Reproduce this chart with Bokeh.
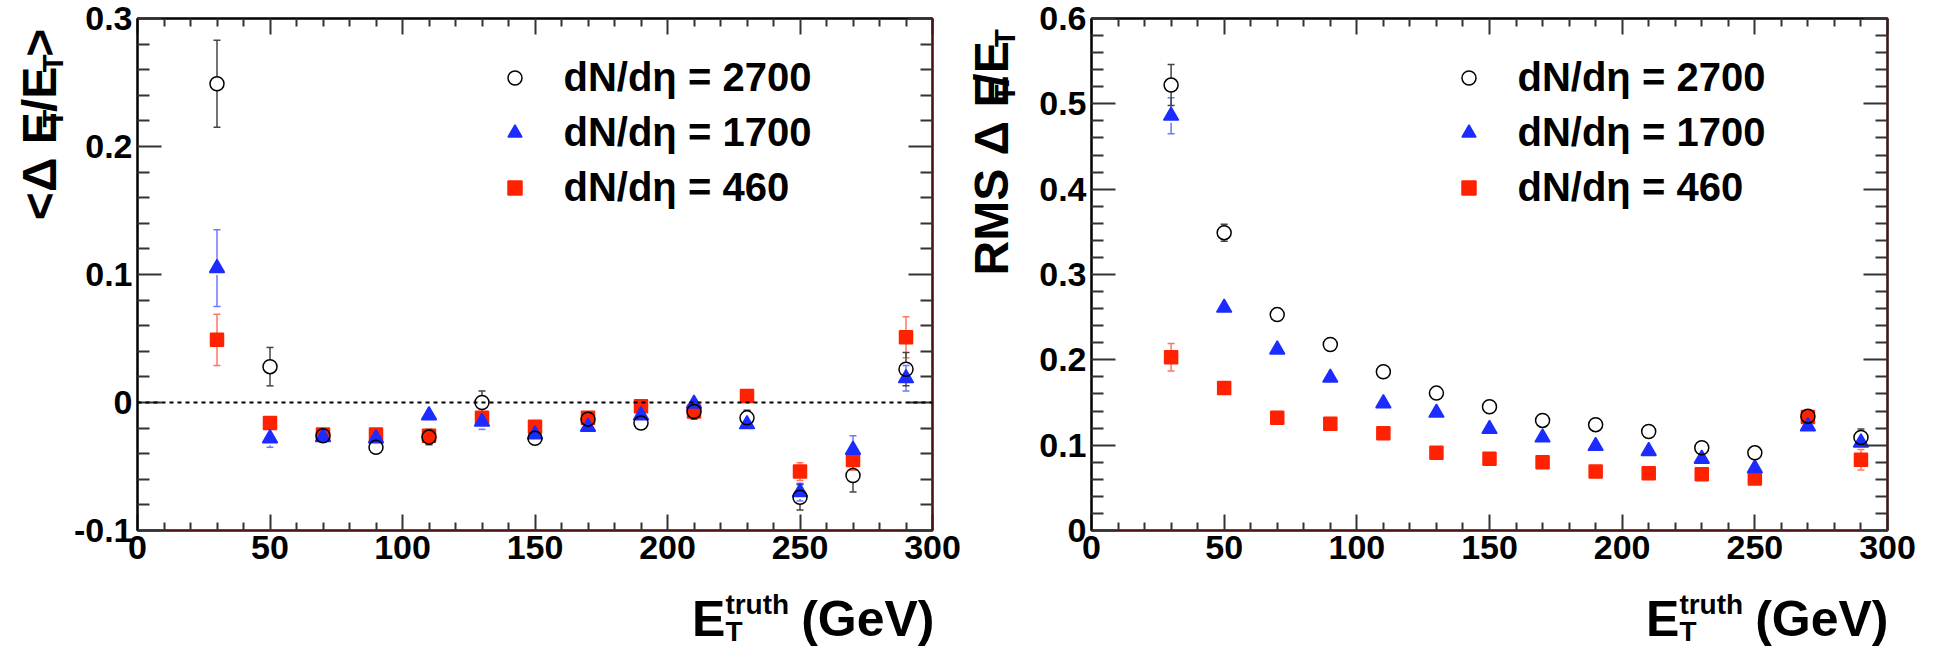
import math
from bokeh.plotting import figure
from bokeh.layouts import row, column
from bokeh.models import (ColumnDataSource, Whisker, TeeHead, Span, Legend, LegendItem,
                          LinearAxis, FixedTicker, Range1d, CustomJSTickFormatter)
from bokeh.core.properties import value
from bokeh.embed import file_html
from bokeh.resources import INLINE

# ---------------- data ----------------
et_truth = [30, 50, 70, 90, 110, 130, 150, 170, 190, 210, 230, 250, 270, 290]

series_labels = ["dN/d\u03b7 = 2700", "dN/d\u03b7 = 1700", "dN/d\u03b7 = 460"]

# left panel: <Delta E_T / E_T>
mean_2700 = [0.249, 0.028, -0.026, -0.035, -0.027, 0.000, -0.028, -0.013, -0.016, -0.007, -0.012, -0.074, -0.057, 0.026]
mean_1700 = [0.105, -0.028, -0.027, -0.028, -0.010, -0.015, -0.025, -0.019, -0.010, -0.001, -0.017, -0.070, -0.037, 0.019]
mean_460 = [0.049, -0.016, -0.025, -0.025, -0.026, -0.012, -0.019, -0.012, -0.003, -0.007, 0.005, -0.054, -0.045, 0.051]
mean_err_2700 = [0.034, 0.015, 0.005, 0.005, 0.006, 0.009, 0.005, 0.005, 0.005, 0.006, 0.006, 0.010, 0.013, 0.013]
mean_err_1700 = [0.030, 0.007, 0.004, 0.004, 0.004, 0.006, 0.004, 0.004, 0.004, 0.004, 0.005, 0.007, 0.011, 0.010]
mean_err_460 = [0.020, 0.005, 0.004, 0.004, 0.004, 0.005, 0.004, 0.004, 0.004, 0.004, 0.005, 0.007, 0.008, 0.016]

# right panel: RMS Delta E_T / E_T
rms_2700 = [0.522, 0.349, 0.253, 0.218, 0.186, 0.161, 0.145, 0.129, 0.124, 0.116, 0.097, 0.091, 0.134, 0.109]
rms_1700 = [0.486, 0.261, 0.212, 0.179, 0.149, 0.138, 0.119, 0.109, 0.099, 0.093, 0.084, 0.073, 0.122, 0.103]
rms_460 = [0.203, 0.167, 0.132, 0.125, 0.114, 0.091, 0.084, 0.080, 0.069, 0.067, 0.066, 0.061, 0.133, 0.083]
rms_err_2700 = [0.024, 0.010, 0.005, 0.005, 0.004, 0.004, 0.004, 0.004, 0.004, 0.004, 0.004, 0.004, 0.006, 0.010]
rms_err_1700 = [0.021, 0.006, 0.004, 0.003, 0.003, 0.003, 0.003, 0.003, 0.003, 0.003, 0.003, 0.003, 0.005, 0.007]
rms_err_460 = [0.016, 0.005, 0.003, 0.003, 0.003, 0.003, 0.003, 0.003, 0.003, 0.003, 0.003, 0.003, 0.005, 0.012]

x_ticks = [0, 50, 100, 150, 200, 250, 300]
mean_ticks = [-0.1, 0.0, 0.1, 0.2, 0.3]
rms_ticks = [0.0, 0.1, 0.2, 0.3, 0.4, 0.5, 0.6]

# ---------------- layout (page pixels; Bokeh's page has no body margin) ----------------
FONT = "Liberation Sans"
INK = "black"
FRAME_W = 796
FRAME_TOP, FRAME_BOTTOM = 18, 530
FRAME_H = FRAME_BOTTOM - FRAME_TOP
TOP_H = 584                  # panel row height
BOT_H = 648 - TOP_H          # x-title row height
YT1_W, P1_W, YT2_W, P2_W = 70, 892, 68, 905
P1_LEFT = YT1_W
YT2_LEFT = YT1_W + P1_W
P2_LEFT = YT2_LEFT + YT2_W
MID = 0.3465                 # em distance from baseline up to the text box middle

# Arial/Liberation Sans Bold advance widths (em)
MET = {"E": .667, "T": .611, "R": .722, "M": .833, "S": .667, " ": .278, "\u0394": .67,
       "<": .584, ">": .584, "/": .278, "(": .333, ")": .333, "G": .778, "e": .556,
       "V": .667, "t": .333, "r": .389, "u": .611, "h": .611}


def tw(s, size):
    return sum(MET.get(c, .6) for c in s) * size


def minor_list(ticks, n):
    out = []
    for a, b in zip(ticks[:-1], ticks[1:]):
        for i in range(1, n):
            out.append(round(a + (b - a) * i / n, 10))
    return out


def y_formatter():
    return CustomJSTickFormatter(code="""
        const v = Math.round(tick * 10) / 10;
        return Math.abs(v) < 1e-9 ? "0" : v.toFixed(1);
    """)


def make_panel(yticks, width, frame_left_page, fig_left_page):
    b_left = frame_left_page - fig_left_page
    b_right = width - b_left - FRAME_W
    p = figure(width=width, height=TOP_H, x_range=Range1d(x_ticks[0], x_ticks[-1]),
               y_range=Range1d(yticks[0], yticks[-1]),
               output_backend="svg", toolbar_location=None,
               min_border_left=b_left, min_border_right=b_right,
               min_border_top=FRAME_TOP, min_border_bottom=TOP_H - FRAME_BOTTOM)
    p.grid.visible = False
    p.outline_line_color = INK
    p.outline_line_width = 2
    p.background_fill_color = "white"
    p.border_fill_color = "white"

    xt = FixedTicker(ticks=x_ticks, minor_ticks=minor_list(x_ticks, 5))
    yt = FixedTicker(ticks=yticks, minor_ticks=minor_list(yticks, 5))

    def style(ax, ticker, major, minor, labels):
        ax.ticker = ticker
        ax.major_tick_in = major
        ax.major_tick_out = 0
        ax.minor_tick_in = minor
        ax.minor_tick_out = 0
        ax.major_tick_line_color = "#333333"
        ax.minor_tick_line_color = "#333333"
        ax.major_tick_line_width = 2
        ax.minor_tick_line_width = 2
        ax.axis_line_width = 2
        ax.axis_line_color = INK
        if labels:
            ax.major_label_text_font = FONT
            ax.major_label_text_font_style = "bold"
            ax.major_label_text_font_size = "34px"
            ax.major_label_text_color = INK
            ax.major_label_standoff = 5
        else:
            ax.major_label_text_font_size = "0px"
            ax.major_label_standoff = 0
            ax.formatter = CustomJSTickFormatter(code="return '';")

    style(p.xaxis[0], xt, 16, 8, True)
    p.xaxis[0].axis_line_color = "#4a1212"
    style(p.yaxis[0], yt, 24, 12, True)
    p.yaxis[0].formatter = y_formatter()

    top = LinearAxis()
    style(top, xt, 16, 8, False)
    p.add_layout(top, "above")
    right = LinearAxis()
    style(right, yt, 24, 12, False)
    right.axis_line_color = "#4a1212"
    p.add_layout(right, "right")
    return p


def add_series(p, vals, errs, marker, color, err_color, size, fill, half_px):
    # error bars are drawn only outside the marker, as ROOT does
    units_per_px = (p.y_range.end - p.y_range.start) / FRAME_H
    r = half_px * units_per_px
    keep = [i for i, e in enumerate(errs) if e > r]
    up = ColumnDataSource(dict(x=[et_truth[i] for i in keep],
                               a=[vals[i] + r for i in keep],
                               b=[vals[i] + errs[i] for i in keep]))
    lo = ColumnDataSource(dict(x=[et_truth[i] for i in keep],
                               a=[vals[i] - errs[i] for i in keep],
                               b=[vals[i] - r for i in keep]))
    p.add_layout(Whisker(source=up, base="x", lower="a", upper="b",
                         line_color=err_color, line_width=1.5, lower_head=None,
                         upper_head=TeeHead(size=7, line_color=err_color, line_width=1.5)))
    p.add_layout(Whisker(source=lo, base="x", lower="a", upper="b",
                         line_color=err_color, line_width=1.5, upper_head=None,
                         lower_head=TeeHead(size=7, line_color=err_color, line_width=1.5)))
    src = ColumnDataSource(dict(x=et_truth, y=vals))
    return p.scatter("x", "y", source=src, marker=marker, size=size,
                     line_color=color, fill_color=fill, line_width=1.5)


def add_legend(p, renderers):
    # first entry centred at page (513, 77), rows 55 px apart
    items = [LegendItem(label=lab, renderers=[r]) for lab, r in zip(series_labels, renderers)]
    box_left = 513 - 17.5 - 136
    box_bottom = FRAME_BOTTOM - (77 - 27.5 + 3 * 55)
    lg = Legend(items=items, location=(box_left, box_bottom), orientation="vertical",
                glyph_width=35, glyph_height=35, label_standoff=32, label_height=55,
                spacing=0, padding=0, margin=0,
                label_text_font=FONT, label_text_font_style="bold",
                label_text_font_size="40px", label_text_color=INK,
                border_line_alpha=0, background_fill_alpha=0)
    p.add_layout(lg)


def text_fig(width, height):
    f = figure(width=width, height=height, x_range=Range1d(0, width), y_range=Range1d(0, height),
               output_backend="svg", toolbar_location=None,
               x_axis_location=None, y_axis_location=None,
               min_border_left=0, min_border_right=0, min_border_top=0, min_border_bottom=0)
    f.grid.visible = False
    f.outline_line_color = None
    f.background_fill_color = "white"
    f.border_fill_color = "white"
    return f


def put(f, origin, px, py, text, size, angle=0.0):
    """Place text whose baseline starts at page point (px, py)."""
    ox, obottom = origin   # page position of the strip's left / bottom edges
    # anchor at the middle of the text box: move 'up' (relative to the glyphs) from the baseline
    if angle == 0.0:
        ax, ay = px, py - MID * size
    else:
        ax, ay = px - MID * size, py
    f.text(x=[ax - ox], y=[obottom - ay], text=[text],
           text_font=value(FONT), text_font_style="bold",
           text_font_size=value(f"{size}px"), text_color=INK,
           text_align="left", text_baseline="middle", angle=angle)


def x_title(f, origin, right_px, base_py):
    big, small, gap = 50, 28, 12
    w_e = tw("E", big)
    w_stack = max(tw("T", small), tw("truth", small))
    w_rest = tw("(GeV)", big)
    x0 = right_px - (w_e + w_stack + gap + w_rest)
    put(f, origin, x0, base_py, "E", big)
    put(f, origin, x0 + w_e, base_py + 5, "T", small)
    put(f, origin, x0 + w_e, base_py - 22, "truth", small)
    put(f, origin, x0 + w_e + w_stack + gap, base_py, "(GeV)", big)


def y_title(f, origin, base_px, start_py, pieces, sub_shift):
    pos = start_py
    for text, size, is_sub in pieces:
        px = base_px + (sub_shift if is_sub else 0)
        put(f, origin, px, pos, text, size, angle=math.pi / 2)
        pos -= tw(text, size)


BLACK_ERR, BLUE, BLUE_ERR, RED, RED_ERR = "#444444", "#1c2cff", "#6b78ff", "#ff2200", "#ff7563"

# ---------------- left panel ----------------
p1 = make_panel(mean_ticks, P1_W, 136, P1_LEFT)
p1.add_layout(Span(location=0, dimension="width", line_color=INK, line_width=2, line_dash="4 4"))
r_sq = add_series(p1, mean_460, mean_err_460, "square", RED, RED_ERR, 13, RED, 6.5)
r_tr = add_series(p1, mean_1700, mean_err_1700, "triangle", BLUE, BLUE_ERR, 15, BLUE, 7)
r_ci = add_series(p1, mean_2700, mean_err_2700, "circle", INK, BLACK_ERR, 14, None, 7)
add_legend(p1, [r_ci, r_tr, r_sq])

# ---------------- right panel ----------------
p2 = make_panel(rms_ticks, P2_W, 1091, P2_LEFT)
s_sq = add_series(p2, rms_460, rms_err_460, "square", RED, RED_ERR, 13, RED, 6.5)
s_tr = add_series(p2, rms_1700, rms_err_1700, "triangle", BLUE, BLUE_ERR, 15, BLUE, 7)
s_ci = add_series(p2, rms_2700, rms_err_2700, "circle", INK, BLACK_ERR, 14, None, 7)
add_legend(p2, [s_ci, s_tr, s_sq])

# ---------------- axis titles (strips beside / below the panels) ----------------
yt1 = text_fig(YT1_W, TOP_H)
y_title(yt1, (0, TOP_H), 56, 230,
        [("<\u0394 E", 48, False), ("T", 29, True), ("/E", 48, False), ("T", 29, True), (">", 48, False)], 7)
yt2 = text_fig(YT2_W, TOP_H)
y_title(yt2, (YT2_LEFT, TOP_H), 1008, 293,
        [("RMS \u0394 E", 48, False), ("T", 29, True), ("/E", 48, False), ("T", 29, True)], 7)

xt1 = text_fig(YT1_W + P1_W, BOT_H)
x_title(xt1, (0, TOP_H + BOT_H), 934, 636)
xt2 = text_fig(YT2_W + P2_W, BOT_H)
x_title(xt2, (YT2_LEFT, TOP_H + BOT_H), 1888, 636)

layout = column(row(yt1, p1, yt2, p2), row(xt1, xt2))
open("out.html", "w").write(file_html(layout, INLINE))
